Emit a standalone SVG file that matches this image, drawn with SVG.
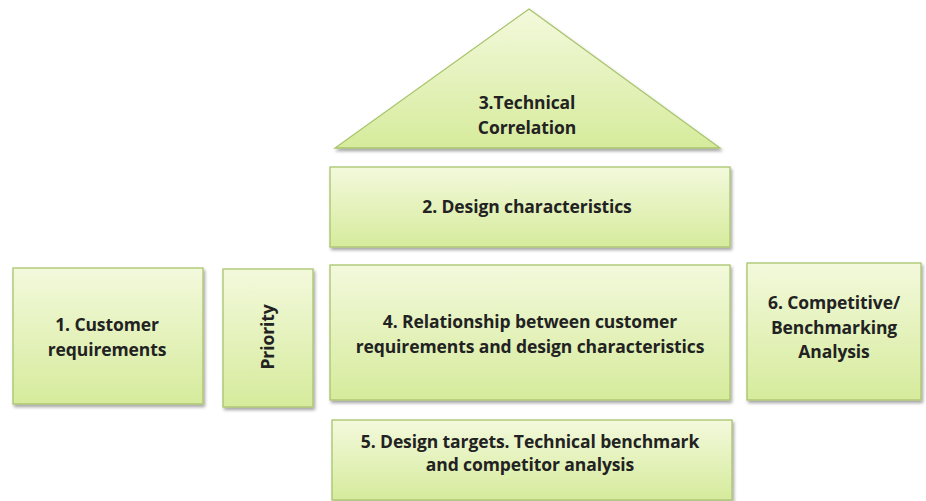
<svg xmlns="http://www.w3.org/2000/svg" width="926" height="501" viewBox="0 0 926 501">
<defs>
<linearGradient id="g" x1="0" y1="0" x2="0" y2="1">
<stop offset="0" stop-color="#f3f9dc"/>
<stop offset="1" stop-color="#d6eb9c"/>
</linearGradient>
<filter id="sh" x="-10%" y="-10%" width="120%" height="125%">
<feDropShadow dx="1.5" dy="2.5" stdDeviation="1.5" flood-color="#000" flood-opacity="0.35"/>
</filter>
<style>
.n{fill:url(#g);stroke:#a9c46c;stroke-width:1.3;filter:url(#sh)}
.t{font-family:"Open Sans","Liberation Sans",sans-serif;font-weight:bold;font-size:17.5px;fill:#222222;text-anchor:middle;letter-spacing:-0.1px}
</style>
</defs>
<rect width="926" height="501" fill="#ffffff"/>
<g id="connectors"/>
<g id="n3">
<polygon class="n" points="529,9 720,148 335,148"/>
<text class="t" x="527" y="109">3.Technical</text>
<text class="t" x="527" y="134">Correlation</text>
</g>
<g id="n2">
<rect class="n" x="330" y="167" width="400" height="80"/>
<text class="t" x="527" y="213">2. Design characteristics</text>
</g>
<g id="n4">
<rect class="n" x="330" y="265" width="400" height="135"/>
<text class="t" x="530" y="328">4. Relationship between customer</text>
<text class="t" x="530" y="353">requirements and design characteristics</text>
</g>
<g id="n1">
<rect class="n" x="13" y="268" width="190" height="136"/>
<text class="t" x="107" y="331">1. Customer</text>
<text class="t" x="107" y="356">requirements</text>
</g>
<g id="np">
<rect class="n" x="223" y="269" width="90" height="138"/>
<text class="t" x="0" y="0" transform="translate(274,337) rotate(-90)">Priority</text>
</g>
<g id="n6">
<rect class="n" x="747" y="263" width="174" height="137"/>
<text class="t" x="834" y="309">6. Competitive/</text>
<text class="t" x="834" y="334">Benchmarking</text>
<text class="t" x="834" y="358">Analysis</text>
</g>
<g id="n5">
<rect class="n" x="332" y="420" width="400" height="80"/>
<text class="t" x="530" y="448">5. Design targets. Technical benchmark</text>
<text class="t" x="530" y="471">and competitor analysis</text>
</g>
</svg>
